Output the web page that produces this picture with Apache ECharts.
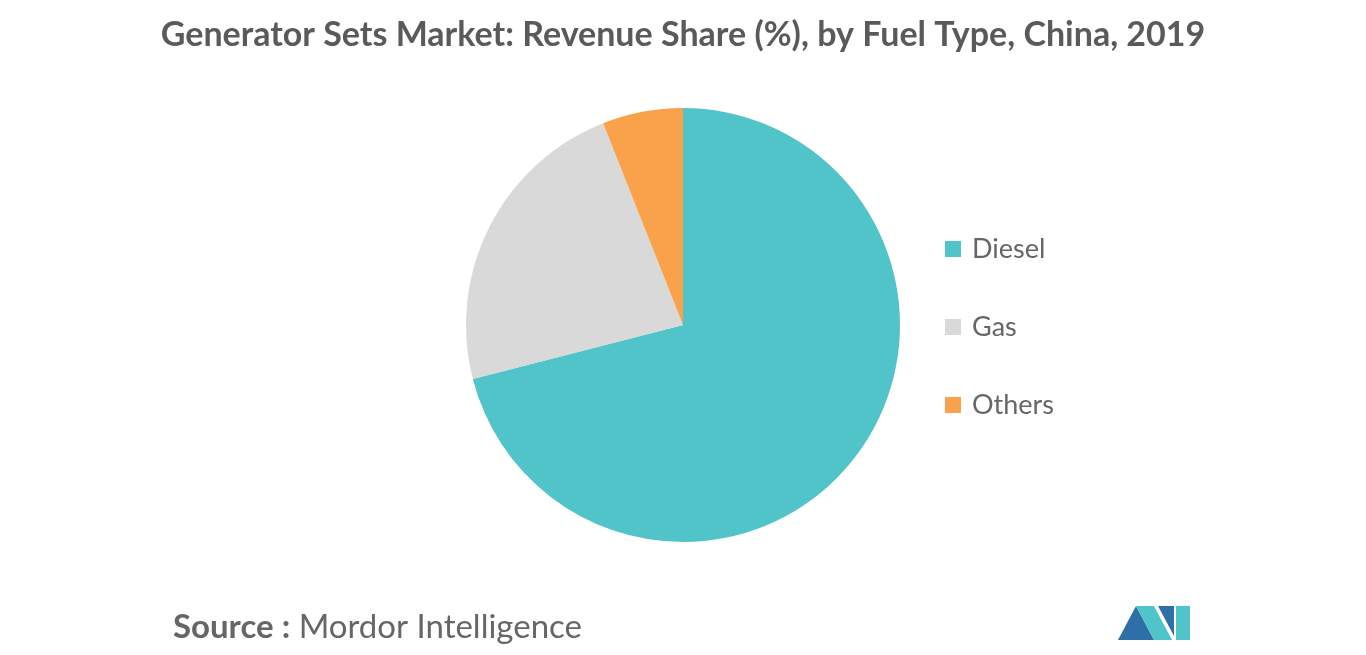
<!DOCTYPE html>
<html><head><meta charset="utf-8">
<script src="https://cdn.jsdelivr.net/npm/echarts@6/dist/echarts.min.js"></script>
<style>html,body{margin:0;padding:0;background:#fff}#c{width:1366px;height:655px}</style>
</head><body><div id="c"></div>
<script>
const categories = ["Diesel", "Gas", "Others"];
const values = [71, 23, 6];
const colors = ["#50C4C9", "#D9D9D9", "#F9A24B"];
const chart = echarts.init(document.getElementById('c'));
chart.setOption({
  animation: false,
  title: {text: "Generator Sets Market: Revenue Share (%), by Fuel Type, China, 2019", left: 'center', top: 13,
    textStyle: {fontFamily: 'Lato', fontWeight: 'bold', fontSize: 34, color: '#5a5a5a'}},
  legend: {orient: 'vertical', left: 940, top: 230, itemGap: 50, itemWidth: 16, itemHeight: 16, icon: 'rect',
    textStyle: {fontFamily: 'Lato', fontSize: 27, lineHeight: 28, color: '#666', padding: [0,0,0,6]}, data: categories},
  series: [{type: 'pie', center: [683, 325], radius: 217, startAngle: 90, clockwise: true,
    label: {show: false}, labelLine: {show: false}, emphasis: {disabled: true},
    data: categories.map((n, i) => ({name: n, value: values[i], itemStyle: {color: colors[i]}}))}],
  graphic: [
    {type: 'text', left: 173, top: 611, style: {text: '{b|Source :} Mordor Intelligence', fill: '#666',
      font: '33px Lato', rich: {b: {fontWeight: 'bold', fontSize: 33, fontFamily: 'Lato', fill: '#666'}}}},
    {type: 'polygon', shape: {points: [[1118,640],[1136,606],[1154,640]]}, style: {fill: '#2E6FA8'}},
    {type: 'polygon', shape: {points: [[1136,606],[1154,606],[1172,640],[1154,640]]}, style: {fill: '#50C4C9'}},
    {type: 'polygon', shape: {points: [[1158,606],[1174,606],[1174,636]]}, style: {fill: '#2E6FA8'}},
    {type: 'polygon', shape: {points: [[1176,606],[1190,606],[1190,640],[1176,640]]}, style: {fill: '#50C4C9'}}
  ]
});
</script></body></html>
